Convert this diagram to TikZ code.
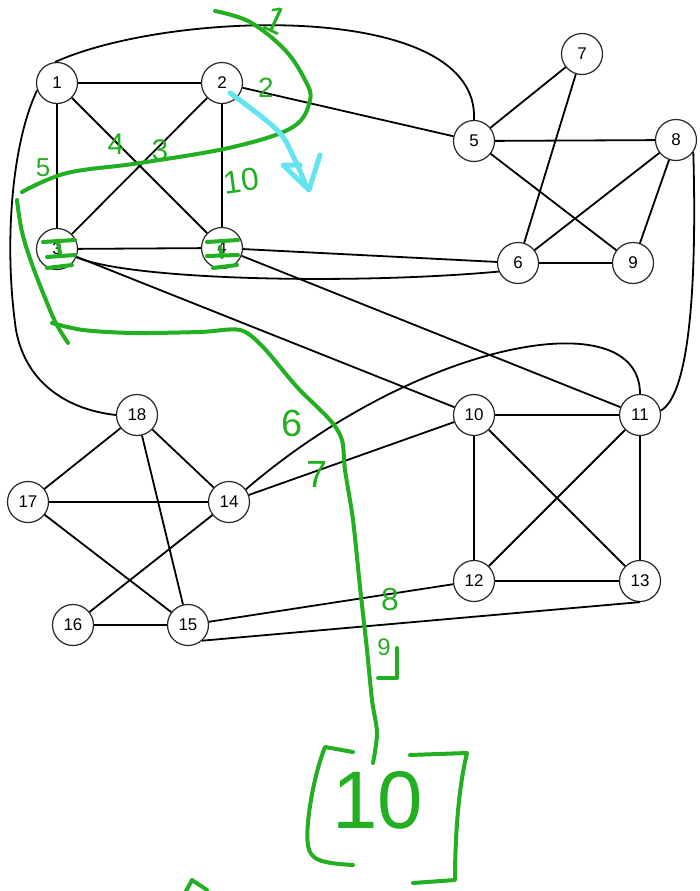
\documentclass[tikz,border=0pt]{standalone}
\usepackage{fontspec}
\setmainfont{Liberation Sans}
\definecolor{inkgreen}{RGB}{34,175,34}
\definecolor{inkcyan}{RGB}{100,228,240}
\begin{document}
\begin{tikzpicture}[x=1bp,y=-1bp,
  vtx/.style={circle, draw=black!85, line width=1.2bp, minimum size=41bp, inner sep=0pt, fill=white, font=\fontsize{17}{17}\selectfont},
  edge/.style={draw=black, line width=1.8bp},
  ink/.style={draw=inkgreen, line width=4bp, line cap=round, line join=round},
  cink/.style={draw=inkcyan, line width=5bp, line cap=round, line join=round},
  gnum/.style={text=inkgreen, inner sep=0pt, font=\fontsize{#1}{#1}\selectfont},
  gnum/.default=30]
\useasboundingbox[fill=white] (0,0) rectangle (700,891);

% nodes
\node[vtx] (n1) at (57,83) {1};
\node[vtx] (n2) at (222,83) {2};
\node[vtx] (n3) at (57,249) {3};
\node[vtx] (n4) at (222,248) {4};
\node[vtx] (n5) at (474,141) {5};
\node[vtx] (n6) at (518,263) {6};
\node[vtx] (n7) at (582,54) {7};
\node[vtx] (n8) at (676,140) {8};
\node[vtx] (n9) at (633,263) {9};
\node[vtx] (n10) at (474,415) {10};
\node[vtx] (n11) at (640,415) {11};
\node[vtx] (n12) at (474,581) {12};
\node[vtx] (n13) at (640,581) {13};
\node[vtx] (n14) at (229,502) {14};
\node[vtx] (n15) at (188,625) {15};
\node[vtx] (n16) at (73,625) {16};
\node[vtx] (n17) at (28,502) {17};
\node[vtx] (n18) at (137,415) {18};

% straight edges
\foreach \a/\b in {n1/n2,n1/n3,n1/n4,n2/n3,n2/n4,n3/n4,n2/n5,n4/n6,n3/n10,n4/n11,
  n5/n7,n5/n8,n5/n9,n7/n6,n8/n6,n8/n9,n6/n9,
  n10/n11,n10/n12,n10/n13,n11/n12,n11/n13,n12/n13,
  n14/n10,n18/n17,n18/n14,n18/n15,n17/n14,n17/n15,n14/n16,n16/n15,n15/n12}
  \draw[edge] (\a) -- (\b);
\draw[edge] (n15.-48) -- (n13.-90);

% curved edges
\draw[edge] (n1.95) .. controls (170,10) and (480,0) .. (n5.north);
\draw[edge] (n1.200) .. controls (13,140) and (3,240) .. (16,330) .. controls (26,385) and (70,410) .. (n18.180);
\draw[edge] (n8.-35) .. controls (697,280) and (690,395) .. (n11.12);
\draw[edge] (n14.37) .. controls (420,340) and (640,300) .. (n11.north);
\draw[edge] (n3.-23) .. controls (130,280) and (350,285) .. (n6.204);

% green annotations
\draw[ink] plot[smooth, tension=0.6] coordinates {(215,11) (250,22) (285,50) (305,80) (310,100) (293,127) (233,147) (140,163) (67,173) (22,192)};
\draw[ink] plot[smooth, tension=0.6] coordinates {(17,200) (22,232) (33,267) (50,310) (58,327) (68,343)};
\draw[ink] plot[smooth, tension=0.5] coordinates {(52,323) (83,330) (133,333) (200,332) (240,330) (263,347) (297,387) (330,420) (342,440) (345,470) (353,520) (360,587) (367,650) (372,700) (377,733) (373,763)};
% scribbles on nodes 3 and 4
\draw[ink] (43,242) -- (75,240) (58,243) -- (60,253) (47,257) -- (75,255) (47,268) -- (72,265);
\draw[ink] (207,242) -- (238,240) (220,247) -- (222,257) (207,256) -- (238,255) (213,268) -- (237,265);
% 9 bracket
\draw[ink] (397,648) -- (397,678) -- (378,678);
% brackets round 10
\draw[ink] (353,752) -- (325,747) .. controls (312,780) and (305,830) .. (308,845) .. controls (310,860) and (320,863) .. (353,865);
\draw[ink] (410,755) -- (467,753) .. controls (458,790) and (455,840) .. (455,880) -- (413,883);
% bottom mark
\draw[ink] (185,893) -- (192,880) -- (207,890);

% green numbers
\node[gnum=38, rotate=-25] (t1) at (276,20) {1};
\node[gnum=28] (t2) at (266,88) {2};
\node[gnum=30] (t4) at (116,144) {4};
\node[gnum=30] (t3) at (160,150) {3};
\node[gnum=26] (t5) at (43,168) {5};
\node[gnum=32, rotate=8] (t10) at (241,181) {10};
\node[gnum=38] (t6) at (292,423) {6};
\node[gnum=38] (t7) at (317,474) {7};
\node[gnum=32] (t8) at (390,600) {8};
\node[gnum=24] (t9) at (384,647) {9};
\node[gnum=82] (t10b) at (378,800) {10};

% cyan arrow
\draw[cink] plot[smooth, tension=0.6] coordinates {(230,93) (277,130) (295,160) (307,188)};
\draw[cink] (300,165) -- (283,165) -- (309,190) -- (320,155);
\end{tikzpicture}
\end{document}
